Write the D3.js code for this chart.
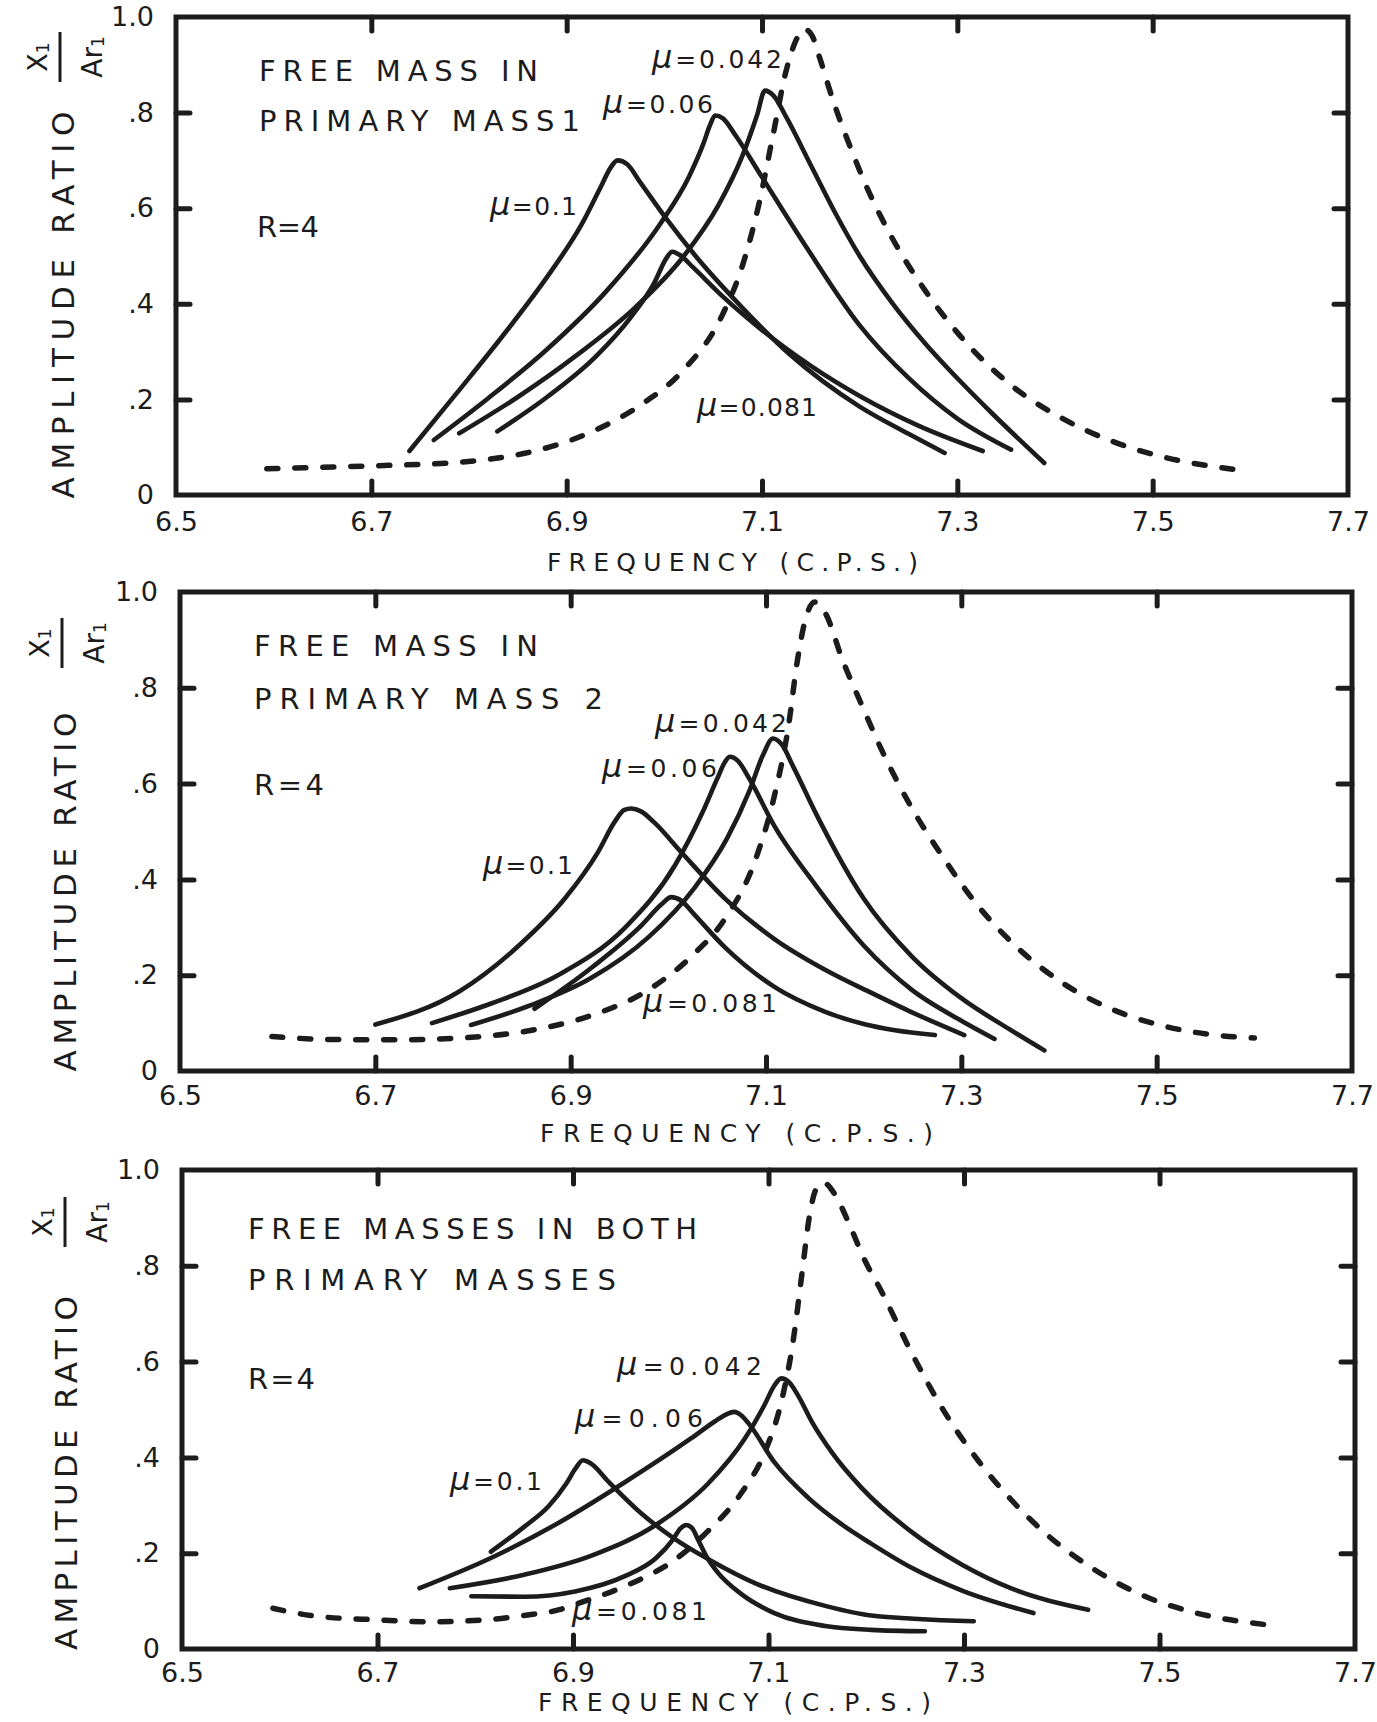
<!DOCTYPE html>
<html>
<head>
<meta charset="utf-8">
<script src="https://cdn.jsdelivr.net/npm/d3@7"></script>
<style>
  html, body { margin: 0; padding: 0; background: #ffffff; }
  svg { display: block; }
</style>
</head>
<body>
<svg id="chart" width="1377" height="1722"></svg>
<script>
// ---------------- DATA ----------------
const xTicks = [6.5, 6.7, 6.9, 7.1, 7.3, 7.5, 7.7];
const xTickLabels = ["6.5", "6.7", "6.9", "7.1", "7.3", "7.5", "7.7"];
const yTicks = [0, 0.2, 0.4, 0.6, 0.8, 1.0];
const yTickLabels = ["0", ".2", ".4", ".6", ".8", "1.0"];

const xTitle = "FREQUENCY (C.P.S.)";
const yTitle = "AMPLITUDE RATIO";
const fracTop = ["X", "1"];
const fracBottom = ["Ar", "1"];
const panelTitles = [
  ["FREE MASS IN", "PRIMARY MASS1"],
  ["FREE MASS IN", "PRIMARY MASS 2"],
  ["FREE MASSES IN BOTH", "PRIMARY MASSES"]
];
const ratioLabel = "R=4";
const muSymbol = "μ";
const muValues = ["0.042", "0.06", "0.081", "0.1"];

// Panel 1 : free mass in primary mass 1  [frequency (c.p.s.), amplitude ratio]
const p1_dashed = [[6.593,0.055],[6.65,0.058],[6.718,0.062],[6.78,0.067],[6.821,0.075],[6.875,0.096],[6.923,0.13],[6.977,0.19],[7.018,0.258],[7.059,0.375],[7.08,0.48],[7.097,0.61],[7.111,0.75],[7.125,0.89],[7.135,0.952],[7.143,0.975],[7.151,0.962],[7.159,0.915],[7.172,0.83],[7.19,0.73],[7.206,0.65],[7.234,0.535],[7.268,0.425],[7.302,0.335],[7.353,0.233],[7.405,0.163],[7.459,0.112],[7.514,0.078],[7.586,0.053]];
const p1_m042 = [[6.79,0.129],[6.85,0.205],[6.91,0.292],[6.97,0.392],[7.02,0.50],[7.055,0.605],[7.08,0.71],[7.095,0.795],[7.103,0.846],[7.112,0.835],[7.125,0.79],[7.15,0.69],[7.175,0.59],[7.2,0.50],[7.234,0.40],[7.268,0.315],[7.302,0.24],[7.336,0.17],[7.389,0.067]];
const p1_m06 = [[6.764,0.115],[6.82,0.203],[6.88,0.305],[6.94,0.425],[6.995,0.565],[7.025,0.665],[7.04,0.735],[7.047,0.775],[7.052,0.794],[7.06,0.788],[7.073,0.752],[7.1,0.665],[7.145,0.52],[7.2,0.355],[7.25,0.245],[7.3,0.16],[7.355,0.095]];
const p1_m081 = [[6.829,0.133],[6.88,0.205],[6.93,0.29],[6.965,0.37],[6.99,0.445],[7.002,0.495],[7.008,0.509],[7.016,0.502],[7.03,0.475],[7.06,0.415],[7.1,0.345],[7.15,0.27],[7.2,0.207],[7.26,0.145],[7.326,0.092]];
const p1_m1 = [[6.739,0.092],[6.787,0.212],[6.838,0.342],[6.882,0.462],[6.915,0.565],[6.935,0.645],[6.945,0.685],[6.952,0.70],[6.962,0.692],[6.975,0.655],[7.002,0.578],[7.032,0.50],[7.077,0.398],[7.128,0.295],[7.2,0.185],[7.25,0.128],[7.287,0.088]];

// Panel 2 : free mass in primary mass 2
const p2_dashed = [[6.594,0.072],[6.65,0.066],[6.717,0.065],[6.795,0.07],[6.86,0.085],[6.921,0.116],[6.976,0.165],[7.024,0.24],[7.058,0.318],[7.089,0.44],[7.109,0.578],[7.123,0.72],[7.132,0.855],[7.14,0.94],[7.15,0.979],[7.161,0.955],[7.178,0.86],[7.2,0.755],[7.218,0.672],[7.249,0.55],[7.28,0.45],[7.317,0.345],[7.355,0.262],[7.402,0.186],[7.453,0.13],[7.505,0.095],[7.556,0.076],[7.6,0.069]];
const p2_m042 = [[6.798,0.096],[6.86,0.138],[6.92,0.193],[6.98,0.28],[7.027,0.383],[7.06,0.485],[7.083,0.585],[7.097,0.66],[7.107,0.694],[7.116,0.682],[7.128,0.635],[7.153,0.53],[7.2,0.36],[7.249,0.24],[7.3,0.152],[7.351,0.085],[7.385,0.043]];
const p2_m06 = [[6.758,0.10],[6.82,0.142],[6.887,0.20],[6.956,0.30],[7.007,0.43],[7.035,0.54],[7.05,0.61],[7.058,0.645],[7.063,0.656],[7.071,0.648],[7.083,0.61],[7.109,0.51],[7.15,0.39],[7.2,0.262],[7.249,0.17],[7.3,0.105],[7.334,0.067]];
const p2_m081 = [[6.863,0.13],[6.921,0.215],[6.973,0.305],[6.993,0.348],[7.003,0.363],[7.013,0.356],[7.026,0.328],[7.058,0.258],[7.109,0.175],[7.16,0.124],[7.2,0.098],[7.232,0.085],[7.273,0.075]];
const p2_m1 = [[6.70,0.097],[6.785,0.165],[6.847,0.262],[6.894,0.36],[6.928,0.457],[6.945,0.52],[6.955,0.545],[6.962,0.548],[6.972,0.542],[6.985,0.52],[7.014,0.455],[7.058,0.36],[7.109,0.275],[7.16,0.212],[7.208,0.163],[7.25,0.122],[7.303,0.075]];

// Panel 3 : free masses in both primary masses
const p3_dashed = [[6.593,0.085],[6.635,0.069],[6.699,0.061],[6.754,0.057],[6.817,0.062],[6.85,0.07],[6.886,0.082],[6.905,0.095],[6.953,0.131],[7.004,0.186],[7.038,0.246],[7.072,0.325],[7.096,0.41],[7.113,0.515],[7.125,0.64],[7.134,0.78],[7.142,0.905],[7.148,0.957],[7.156,0.974],[7.167,0.952],[7.182,0.89],[7.197,0.818],[7.216,0.745],[7.246,0.62],[7.28,0.495],[7.315,0.392],[7.349,0.31],[7.383,0.242],[7.434,0.165],[7.485,0.11],[7.536,0.076],[7.608,0.051]];
const p3_m042 = [[6.774,0.127],[6.85,0.155],[6.919,0.195],[6.987,0.262],[7.038,0.345],[7.076,0.44],[7.096,0.51],[7.106,0.55],[7.113,0.565],[7.121,0.557],[7.13,0.53],[7.145,0.472],[7.165,0.41],[7.195,0.337],[7.246,0.245],[7.298,0.176],[7.349,0.126],[7.427,0.082]];
const p3_m06 = [[6.743,0.127],[6.816,0.19],[6.885,0.263],[6.953,0.348],[7.021,0.44],[7.045,0.475],[7.057,0.49],[7.065,0.495],[7.072,0.488],[7.08,0.47],[7.106,0.39],[7.141,0.315],[7.175,0.26],[7.205,0.22],[7.246,0.17],[7.298,0.122],[7.371,0.075]];
const p3_m081 = [[6.796,0.11],[6.85,0.109],[6.902,0.12],[6.953,0.152],[6.985,0.19],[7.002,0.228],[7.01,0.252],[7.016,0.259],[7.022,0.252],[7.028,0.228],[7.036,0.195],[7.048,0.16],[7.072,0.115],[7.106,0.075],[7.158,0.048],[7.205,0.04],[7.26,0.037]];
const p3_m1 = [[6.816,0.203],[6.85,0.255],[6.875,0.298],[6.893,0.345],[6.903,0.378],[6.91,0.394],[6.918,0.388],[6.936,0.35],[6.97,0.283],[7.004,0.23],[7.038,0.188],[7.089,0.135],[7.158,0.09],[7.205,0.07],[7.31,0.058]];

// grouped for drawing (built from the arrays above)
const panels = [
  { dashed: p1_dashed, solid: [p1_m042, p1_m06, p1_m081, p1_m1] },
  { dashed: p2_dashed, solid: [p2_m042, p2_m06, p2_m081, p2_m1] },
  { dashed: p3_dashed, solid: [p3_m042, p3_m06, p3_m081, p3_m1] }
];

// ---------------- LAYOUT (pixels) ----------------
const layout = [
  { L: 176, R: 1348, T: 17, B: 495, xPad: 17,
    titles: [[259, 81, 279], [259, 131, 321]], ratio: [257, 237, 62],
    mu: [[652, 68, 130], [603, 113, 110], [697, 416, 120], [490, 215, 87]],
    yT: [63, 305, 387], frac: [60, 57], xT: [547, 571, 371] },
  { L: 180, R: 1352, T: 592, B: 1071, xPad: 15,
    titles: [[254, 656, 284], [254, 709, 349]], ratio: [254, 795, 70],
    mu: [[655, 732, 132], [602, 777, 115], [643, 1012, 134], [483, 874, 90]],
    yT: [65, 892, 359], frac: [62, 643], xT: [540, 1142, 393] },
  { L: 182, R: 1355, T: 1170, B: 1649, xPad: 14,
    titles: [[248, 1239, 449], [248, 1290, 368]], ratio: [248, 1389, 67],
    mu: [[617, 1375, 145], [575, 1427, 128], [572, 1620, 135], [450, 1490, 92]],
    yT: [66, 1473, 354], frac: [65, 1222], xT: [538, 1711, 393] }
];

// ---------------- DRAW ----------------
const INK = "#1c1c1c";
const FONT = "'DejaVu Sans', 'Liberation Sans', Arial, sans-serif";
const svg = d3.select("#chart");
svg.append("rect").attr("width", 1377).attr("height", 1722).attr("fill", "#ffffff");

layout.forEach((lay, i) => {
  const pd = panels[i];
  const x = d3.scaleLinear().domain([xTicks[0], xTicks[xTicks.length - 1]]).range([lay.L, lay.R]);
  const y = d3.scaleLinear().domain([yTicks[0], yTicks[yTicks.length - 1]]).range([lay.B, lay.T]);
  const g = svg.append("g").attr("class", "panel");

  const styleAxis = sel => {
    sel.select(".domain").remove();
    sel.selectAll(".tick line").attr("stroke", INK).attr("stroke-width", 5).attr("stroke-linecap", "round");
    sel.selectAll(".tick text").attr("fill", INK).attr("font-family", FONT).attr("font-size", 27);
  };

  // bottom axis with labels
  g.append("g").attr("transform", `translate(0,${lay.B})`)
    .call(d3.axisBottom(x).tickValues(xTicks).tickSizeInner(-14).tickSizeOuter(0)
      .tickPadding(lay.xPad).tickFormat((d, k) => xTickLabels[k]))
    .call(styleAxis);
  // top axis (ticks only)
  g.append("g").attr("transform", `translate(0,${lay.T})`)
    .call(d3.axisTop(x).tickValues(xTicks.slice(1, -1)).tickSizeInner(-14).tickSizeOuter(0).tickFormat(""))
    .call(styleAxis);
  // left axis with labels
  g.append("g").attr("transform", `translate(${lay.L},0)`)
    .call(d3.axisLeft(y).tickValues(yTicks).tickSizeInner(-14).tickSizeOuter(0)
      .tickPadding(22).tickFormat((d, k) => yTickLabels[k]))
    .call(styleAxis);
  // right axis (ticks only)
  g.append("g").attr("transform", `translate(${lay.R},0)`)
    .call(d3.axisRight(y).tickValues(yTicks.slice(1, -1)).tickSizeInner(-14).tickSizeOuter(0).tickFormat(""))
    .call(styleAxis);

  // hide tick marks that coincide with the frame
  g.selectAll(".tick").filter(d => d === xTicks[0] || d === xTicks[xTicks.length - 1] || d === yTicks[0] || d === yTicks[yTicks.length - 1])
    .select("line").remove();

  // curves
  const line = d3.line().x(d => x(d[0])).y(d => y(d[1])).curve(d3.curveMonotoneX);
  g.append("path").datum(pd.dashed).attr("d", line)
    .attr("fill", "none").attr("stroke", INK).attr("stroke-width", 5.5)
    .attr("stroke-dasharray", "11,17").attr("stroke-linecap", "round");
  pd.solid.forEach(s => {
    g.append("path").datum(s).attr("d", line)
      .attr("fill", "none").attr("stroke", INK).attr("stroke-width", 4.6)
      .attr("stroke-linecap", "round").attr("stroke-linejoin", "round");
  });

  // frame
  g.append("rect").attr("x", lay.L).attr("y", lay.T)
    .attr("width", lay.R - lay.L).attr("height", lay.B - lay.T)
    .attr("fill", "none").attr("stroke", INK).attr("stroke-width", 5);

  const txt = (tx, ty, s, size, w) => {
    const t = g.append("text").attr("x", tx).attr("y", ty).attr("fill", INK)
      .attr("font-family", FONT).attr("font-size", size).text(s);
    if (w) t.attr("textLength", w).attr("lengthAdjust", "spacing");
    return t;
  };

  // panel titles
  panelTitles[i].forEach((s, k) => txt(lay.titles[k][0], lay.titles[k][1], s, 29, lay.titles[k][2]));
  txt(lay.ratio[0], lay.ratio[1], ratioLabel, 29, lay.ratio[2]);

  // mu labels
  muValues.forEach((v, k) => {
    const [lx, ly, lw] = lay.mu[k];
    const t = g.append("text").attr("x", lx).attr("y", ly).attr("fill", INK)
      .attr("font-family", FONT).attr("font-size", 25)
      .attr("textLength", lw).attr("lengthAdjust", "spacing");
    t.append("tspan").attr("font-style", "italic").attr("font-size", 32).text(muSymbol);
    t.append("tspan").text("=" + v);
  });

  // x title
  txt(lay.xT[0], lay.xT[1], xTitle, 25, lay.xT[2]);

  // y title (rotated)
  g.append("text")
    .attr("transform", `translate(${lay.yT[0]},${lay.yT[1]}) rotate(-90)`)
    .attr("text-anchor", "middle").attr("dy", "0.36em")
    .attr("fill", INK).attr("font-family", FONT).attr("font-size", 31)
    .attr("textLength", lay.yT[2]).attr("lengthAdjust", "spacing")
    .text(yTitle);

  // fraction X1 / Ar1 (rotated)
  const fg = g.append("g").attr("transform", `translate(${lay.frac[0]},${lay.frac[1]}) rotate(-90)`);
  const num = fg.append("text").attr("x", 0).attr("y", -13).attr("text-anchor", "middle")
    .attr("fill", INK).attr("font-family", FONT).attr("font-size", 27);
  num.append("tspan").text(fracTop[0]);
  num.append("tspan").attr("font-size", 17).attr("dy", 2).text(fracTop[1]);
  fg.append("line").attr("x1", -25).attr("x2", 25).attr("y1", 0).attr("y2", 0)
    .attr("stroke", INK).attr("stroke-width", 3);
  const den = fg.append("text").attr("x", 0).attr("y", 42).attr("text-anchor", "middle")
    .attr("fill", INK).attr("font-family", FONT).attr("font-size", 28);
  den.append("tspan").text(fracBottom[0]);
  den.append("tspan").attr("font-size", 17).attr("dy", 2).text(fracBottom[1]);
});
</script>
</body>
</html>
